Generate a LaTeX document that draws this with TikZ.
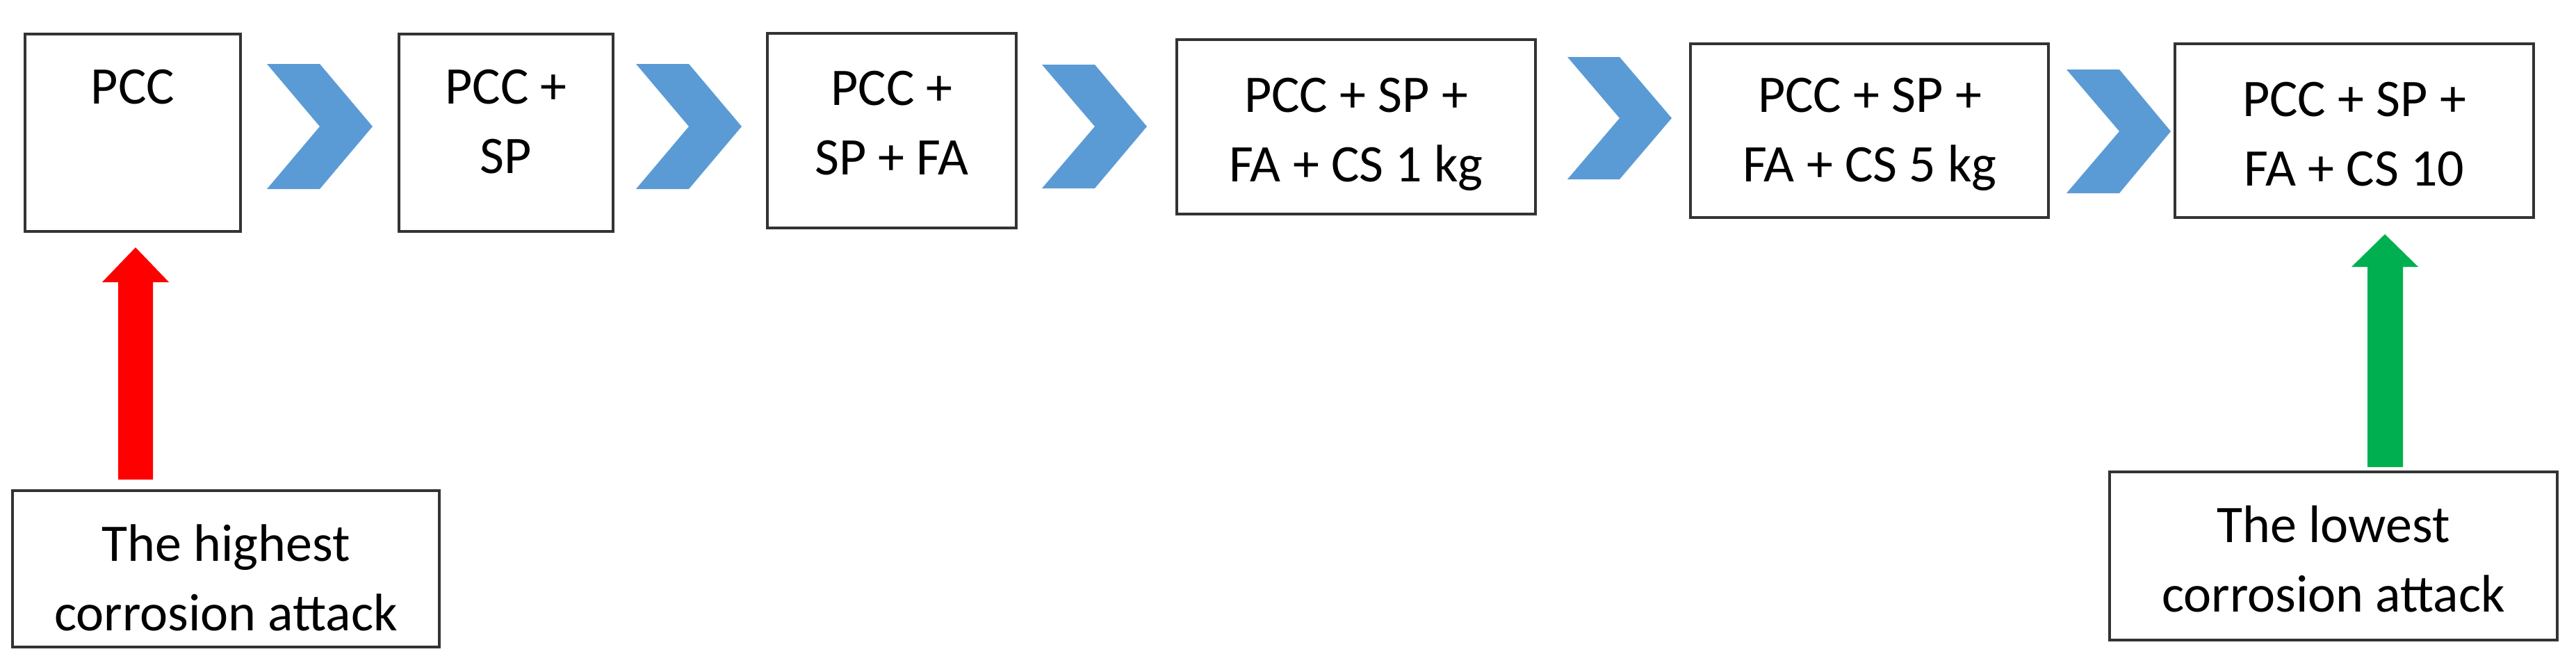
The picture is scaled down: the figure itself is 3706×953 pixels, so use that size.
\documentclass[tikz,border=0pt]{standalone}
\usepackage{fontspec}
\setmainfont{Carlito}
\usetikzlibrary{calc}
\definecolor{chev}{HTML}{5B9BD5}
\definecolor{gr}{HTML}{00B050}
\begin{document}
\begin{tikzpicture}[x=1pt,y=-1pt,
  box/.style={draw=black!80,line width=4pt,rectangle,inner sep=0pt},
  txt/.style={font=\fontsize{76}{100}\selectfont,align=center,inner sep=0pt,anchor=center},
  chevron/.style={fill=chev,draw=none}]
\useasboundingbox (0,0) rectangle (3706,953);
\fill[white] (0,0) rectangle (3706,953);
\newcommand{\bx}[5]{\node[box,minimum width=#3-#2,minimum height=#5-#4] (#1) at ({(#2+#3)/2},{(#4+#5)/2}) {};}
\bx{b1}{36}{346}{49}{333}
\bx{b2}{574}{882}{49}{333}
\bx{b3}{1104}{1462}{48}{328}
\bx{b4}{1693}{2209}{57}{308}
\bx{b5}{2432}{2947}{63}{313}
\bx{b6}{3129}{3645}{63}{313}
\bx{l1}{18}{632}{706}{931}
\bx{l2}{3035}{3679}{679}{921}
\node[txt] (t1) at (191,125) {PCC};
\node[txt] (t2) at (728,175) {PCC +\\SP};
\node[txt] (t3) at (1283,177) {PCC +\\SP + FA};
\node[txt] (t4) at (1951,193) {PCC + SP +\\FA + CS 1 kg};
\node[txt] (t5) at (2690,193) {PCC + SP +\\FA + CS 5 kg};
\node[txt] (t6) at (3387,193) {PCC + SP +\\FA + CS 10};
\node[txt] (t7) at (325,831) {The highest\\corrosion attack};
\node[txt] (t8) at (3357,804) {The lowest\\corrosion attack};
\newcommand{\chev}[5]{\fill[chevron] (#1,#4) -- (#2,#4) -- (#3,{(#4+#5)/2}) -- (#2,#5) -- (#1,#5) -- ({#1+#2-#1},{(#4+#5)/2}) -- cycle;}
\newcommand{\chevv}[5]{\fill[chevron] (#1,#4) -- (#2,#4) -- (#3,{(#4+#5)/2}) -- (#2,#5) -- (#1,#5) -- ({#2},{(#4+#5)/2}) -- cycle;}
\chevv{384}{460}{536}{92}{272}
\chevv{915}{991}{1067}{92}{272}
\chevv{1499}{1575}{1650}{93}{271}
\chevv{2255}{2330}{2405}{82}{258}
\chevv{2973}{3049}{3123}{100}{278}
% red arrow
\coordinate (rb) at (l1.north -| 195,0);
\fill[red] (170,690) -- (170,406) -- (147,406) -- (195,356) -- (243,406) -- (220,406) -- (220,690) -- cycle;
\fill[gr] (3406,672) -- (3406,384) -- (3383,384) -- (3431,337) -- (3479,384) -- (3457,384) -- (3457,672) -- cycle;
\end{tikzpicture}
\end{document}
